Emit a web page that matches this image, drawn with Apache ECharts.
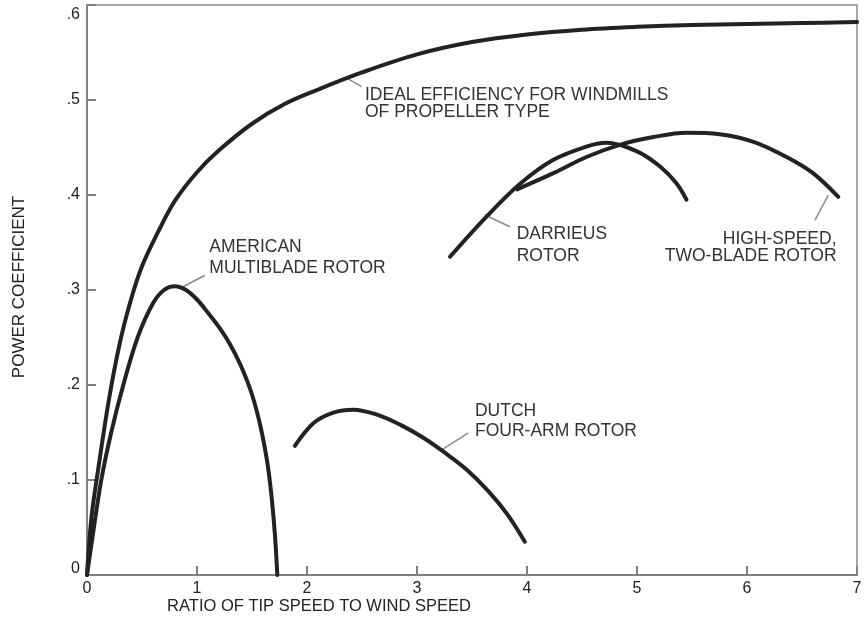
<!DOCTYPE html>
<html>
<head>
<meta charset="utf-8">
<title>Power coefficient vs tip speed ratio</title>
<script src="https://cdn.jsdelivr.net/npm/echarts@6/dist/echarts.min.js"></script>
<style>
  html, body { margin: 0; padding: 0; background: #fff; }
  #chart { width: 865px; height: 626px; }
</style>
</head>
<body>
<div id="chart"></div>
<script>
// Tip speed ratio (x) and power coefficient (y) for each rotor type
const idealPropeller = [
  [0, 0], [0.04, 0.06], [0.1, 0.11], [0.2, 0.185], [0.3, 0.245], [0.4, 0.29],
  [0.5, 0.325], [0.65, 0.362], [0.8, 0.394], [1.0, 0.424], [1.2, 0.447],
  [1.5, 0.475], [1.8, 0.496], [2.1, 0.511], [2.5, 0.529], [3.0, 0.548],
  [3.5, 0.561], [4.0, 0.569], [4.5, 0.574], [5.0, 0.577], [5.5, 0.579],
  [6.0, 0.580], [6.5, 0.581], [7.0, 0.582]
];
const americanMultiblade = [
  [0, 0], [0.05, 0.04], [0.13, 0.1], [0.22, 0.15], [0.33, 0.2], [0.46, 0.25],
  [0.6, 0.286], [0.7, 0.3], [0.8, 0.304], [0.9, 0.300], [1.0, 0.290],
  [1.1, 0.276], [1.2, 0.261], [1.3, 0.243], [1.4, 0.220], [1.5, 0.190],
  [1.58, 0.155], [1.64, 0.118], [1.68, 0.08], [1.71, 0.04], [1.73, 0]
];
const dutchFourArm = [
  [1.89, 0.136], [2.06, 0.16], [2.24, 0.171], [2.42, 0.174], [2.63, 0.169],
  [2.85, 0.158], [3.05, 0.145], [3.25, 0.129], [3.45, 0.111], [3.65, 0.088],
  [3.82, 0.064], [3.98, 0.035]
];
const darrieus = [
  [3.30, 0.335], [3.63, 0.377], [3.94, 0.412], [4.24, 0.437], [4.54, 0.451],
  [4.72, 0.455], [5.0, 0.446], [5.21, 0.430], [5.36, 0.412], [5.45, 0.395]
];
const highSpeedTwoBlade = [
  [3.91, 0.406], [4.24, 0.423], [4.54, 0.44], [4.85, 0.453], [5.15, 0.461],
  [5.45, 0.4655], [5.75, 0.464], [6.06, 0.456], [6.36, 0.44], [6.6, 0.423],
  [6.83, 0.398]
];

const xTicks = [0, 1, 2, 3, 4, 5, 6, 7];
const yTicks = ['0', '.1', '.2', '.3', '.4', '.5', '.6'];

const curveLabels = [
  'IDEAL EFFICIENCY FOR WINDMILLS\nOF PROPELLER TYPE',
  'AMERICAN\nMULTIBLADE ROTOR',
  'DARRIEUS\nROTOR',
  'HIGH-SPEED,\nTWO-BLADE ROTOR',
  'DUTCH\nFOUR-ARM ROTOR'
];

// Annotation layout: text anchor (data coords), leader line ends, alignment
const annotations = [
  { text: curveLabels[0], at: [2.527, 0.5052], lh: 17, align: 'left',  leader: [[2.345, 0.524], [2.497, 0.514]] },
  { text: curveLabels[1], at: [1.112, 0.3453], lh: 21, align: 'left',  leader: [[0.861, 0.3026], [1.073, 0.3155]] },
  { text: curveLabels[2], at: [3.906, 0.3590], lh: 22, align: 'left',  leader: [[3.618, 0.379], [3.845, 0.3666]] },
  { text: curveLabels[3], at: [6.814, 0.3530], lh: 17, align: 'right', leader: [[6.739, 0.3999], [6.618, 0.3736]] },
  { text: curveLabels[4], at: [3.527, 0.1720], lh: 20, align: 'left',  leader: [[3.224, 0.1318], [3.467, 0.1495]] }
];

const FONT = '"Liberation Sans", Arial, Helvetica, sans-serif';
const INK = '#222';
const AXIS = '#808080';

function curve(name, data) {
  return {
    name, type: 'line', data, smooth: 0.35,
    showSymbol: false, silent: true, z: 3,
    lineStyle: { color: INK, width: 4, cap: 'round', join: 'round' }
  };
}

const leaderSeries = annotations.map((a, i) => ({
  name: 'leader' + i, type: 'line', data: a.leader, showSymbol: false,
  silent: true, z: 2, lineStyle: { color: '#8c8c8c', width: 1.5 }
}));

const chart = echarts.init(document.getElementById('chart'), null, { renderer: 'canvas' });

chart.setOption({
  backgroundColor: '#fff',
  animation: false,
  grid: {
    left: 87, right: 8, top: 5, bottom: 51,
    show: true, borderColor: '#8a8a8a', borderWidth: 1.5, backgroundColor: 'transparent'
  },
  xAxis: {
    type: 'value', min: 0, max: 7, interval: 1,
    axisLine: { lineStyle: { color: AXIS, width: 2 } },
    axisTick: { inside: true, length: 9, lineStyle: { color: AXIS, width: 2 } },
    splitLine: { show: false },
    axisLabel: {
      margin: 6, color: INK, fontFamily: FONT, fontSize: 16,
      formatter: v => String(xTicks[Math.round(v)])
    }
  },
  yAxis: {
    type: 'value', min: 0, max: 0.6, interval: 0.1,
    axisLine: { lineStyle: { color: AXIS, width: 2 } },
    axisTick: { inside: true, length: 9, lineStyle: { color: AXIS, width: 2 } },
    splitLine: { show: false },
    axisLabel: {
      margin: 7, color: INK, fontFamily: FONT, fontSize: 16,
      formatter: v => {
        const k = Math.round(v * 10);
        if (k === 0) return '{lo|' + yTicks[k] + '}';
        if (k === 6) return '{hi|' + yTicks[k] + '}';
        return yTicks[k];
      },
      rich: {
        lo: { fontFamily: FONT, fontSize: 16, color: INK, padding: [0, 0, 12, 0] },
        hi: { fontFamily: FONT, fontSize: 16, color: INK, padding: [20, 0, 0, 0] }
      }
    }
  },
  series: [
    curve('Ideal efficiency for windmills of propeller type', idealPropeller),
    curve('American multiblade rotor', americanMultiblade),
    curve('Dutch four-arm rotor', dutchFourArm),
    curve('Darrieus rotor', darrieus),
    curve('High-speed, two-blade rotor', highSpeedTwoBlade)
  ].concat(leaderSeries)
});

// Curve captions placed in data coordinates, plus axis titles
function drawText() {
  const elements = annotations.map(a => {
    const p = chart.convertToPixel({ gridIndex: 0 }, a.at);
    return {
      type: 'text', silent: true, z: 10,
      x: p[0], y: p[1] - a.lh / 2,
      style: {
        text: a.text, fill: '#333', font: '17.5px ' + FONT,
        lineHeight: a.lh, align: a.align, verticalAlign: 'top'
      }
    };
  });
  elements.push({
    type: 'text', silent: true, x: 319, y: 606,
    style: { text: 'RATIO OF TIP SPEED TO WIND SPEED', fill: '#222', font: '16.5px ' + FONT, align: 'center', verticalAlign: 'middle' }
  });
  elements.push({
    type: 'text', silent: true, x: 19, y: 287, rotation: Math.PI / 2,
    style: { text: 'POWER COEFFICIENT', fill: '#222', font: '17px ' + FONT, align: 'center', verticalAlign: 'middle' }
  });
  chart.setOption({ graphic: { elements } });
}
drawText();
</script>
</body>
</html>
